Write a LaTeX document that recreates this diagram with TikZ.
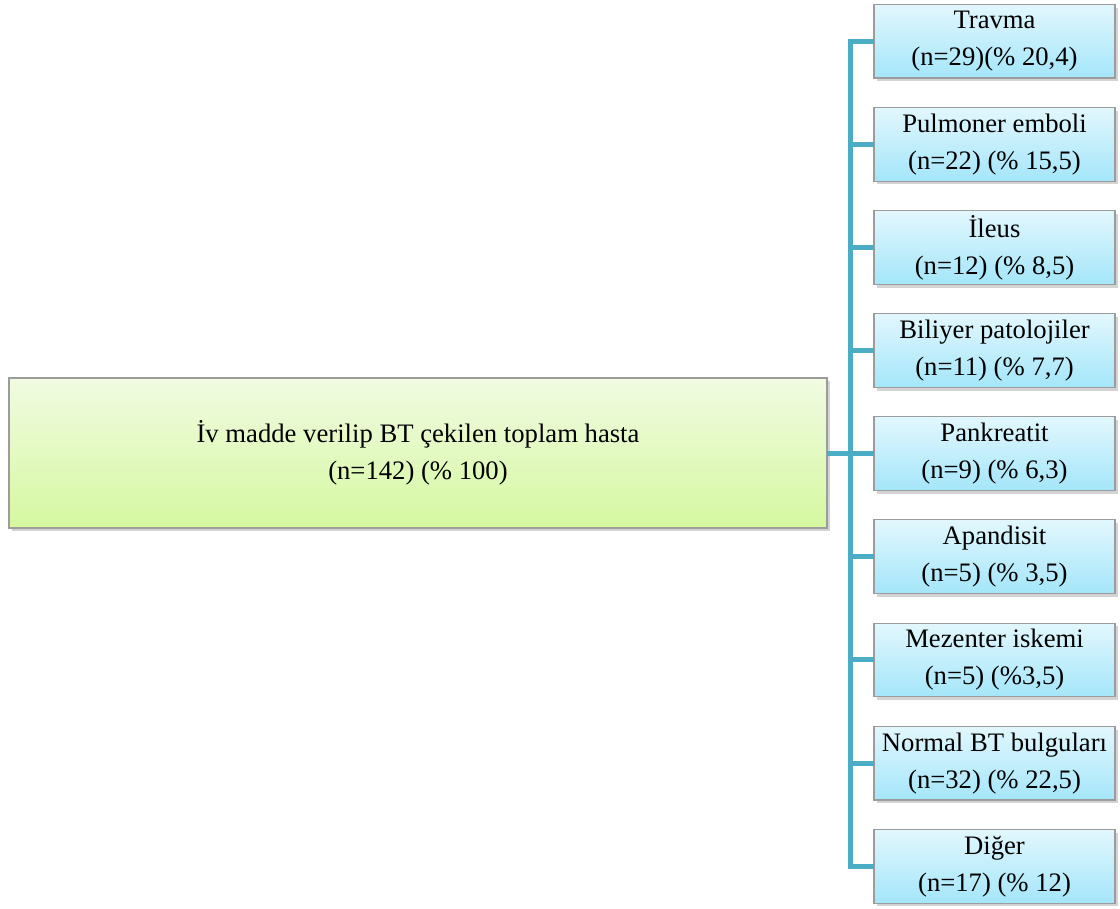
\documentclass[tikz,border=0pt]{standalone}
\usepackage{fontspec}
\setmainfont{Liberation Serif}
\usetikzlibrary{positioning,shadows}

\definecolor{linkblue}{HTML}{4BACC6}
\definecolor{boxedge}{HTML}{9C9C9C}
\definecolor{cattop}{RGB}{226,247,253}
\definecolor{catbottom}{RGB}{164,230,250}
\definecolor{totaltop}{RGB}{241,251,226}
\definecolor{totalbottom}{RGB}{213,248,160}

\begin{document}
\begin{tikzpicture}[
  x=0.75pt, y=-0.75pt,
  node distance=22.05pt,
  boxtext/.style={font=\fontsize{20}{27.75}\selectfont, align=center, inner sep=0pt, outer sep=0pt},
  catbox/.style={boxtext, draw=boxedge, line width=0.8pt, top color=cattop, bottom color=catbottom,
    minimum width=180.75pt, minimum height=55.3pt,
    drop shadow={shadow xshift=2pt, shadow yshift=-2.5pt, opacity=0.35}},
  totalbox/.style={boxtext, draw=boxedge, line width=0.8pt, top color=totaltop, bottom color=totalbottom,
    minimum width=613.5pt, minimum height=112.5pt,
    drop shadow={shadow xshift=2pt, shadow yshift=-2.5pt, opacity=0.35}},
  link/.style={draw=linkblue, line width=3.75pt}
]
\useasboundingbox (0,0) rectangle (1120,908);

\node[totalbox] (total) at (418,453) {İv madde verilip BT çekilen toplam hasta\\(n=142) (\% 100)};

\node[catbox] (travma) at (994.5,41.15) {Travma\\(n=29)(\% 20,4)};
\node[catbox, below=of travma] (emboli) {Pulmoner emboli\\(n=22) (\% 15,5)};
\node[catbox, below=of emboli] (ileus) {İleus\\(n=12) (\% 8,5)};
\node[catbox, below=of ileus] (biliyer) {Biliyer patolojiler\\(n=11) (\% 7,7)};
\node[catbox, below=of biliyer] (pankreatit) {Pankreatit\\(n=9) (\% 6,3)};
\node[catbox, below=of pankreatit] (apandisit) {Apandisit\\(n=5) (\% 3,5)};
\node[catbox, below=of apandisit] (iskemi) {Mezenter iskemi\\(n=5) (\%3,5)};
\node[catbox, below=of iskemi] (normal) {Normal BT bulguları\\(n=32) (\% 22,5)};
\node[catbox, below=of normal] (diger) {Diğer\\(n=17) (\% 12)};

\coordinate (spine) at (850,453);

% trunk with first and last branch
\draw[link, line join=miter] (travma.west) -- (travma.west -| spine) -- (diger.west -| spine) -- (diger.west);
\draw[link] (total.east) -- (spine);
\draw[link] (emboli.west) -- (emboli.west -| spine);
\draw[link] (ileus.west) -- (ileus.west -| spine);
\draw[link] (biliyer.west) -- (biliyer.west -| spine);
\draw[link] (pankreatit.west) -- (pankreatit.west -| spine);
\draw[link] (apandisit.west) -- (apandisit.west -| spine);
\draw[link] (iskemi.west) -- (iskemi.west -| spine);
\draw[link] (normal.west) -- (normal.west -| spine);

\end{tikzpicture}
\end{document}
